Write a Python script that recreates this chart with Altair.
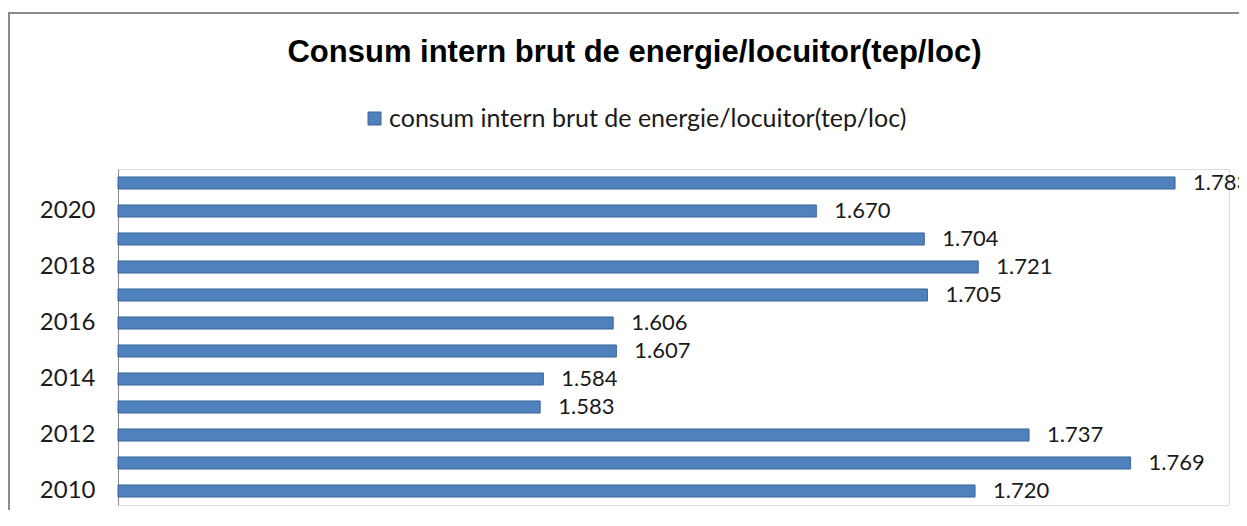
import altair as alt
import pandas as pd

years = [2010, 2011, 2012, 2013, 2014, 2015, 2016, 2017, 2018, 2019, 2020, 2021]
values = [1.720, 1.769, 1.737, 1.583, 1.584, 1.607, 1.606, 1.705, 1.721, 1.704, 1.670, 1.783]
series_name = "consum intern brut de energie/locuitor(tep/loc)"
title_text = "Consum intern brut de energie/locuitor(tep/loc)"
x_min = 1.45
x_max = 1.80

bar_color = "#4F81BD"
bar_edge = "#3A6597"
text_color = "#1a1a1a"

df = pd.DataFrame({"year": years, "value": values, "series": [series_name] * len(years)})

y_enc = alt.Y(
    "year:O",
    sort="descending",
    scale=alt.Scale(paddingInner=0.57, paddingOuter=0.285),
    axis=alt.Axis(
        title=None,
        labelExpr="datum.value % 2 == 0 ? datum.label : ''",
        ticks=False,
        labelFont="Lato",
        labelFontSize=24,
        labelColor=text_color,
        labelPadding=23,
        domainColor="#8c8c8c",
        domainWidth=1,
        grid=False,
    ),
)
x_enc = alt.X("value:Q", scale=alt.Scale(domain=[x_min, x_max], zero=False, nice=False), axis=None)

bars = alt.Chart(df).mark_bar(stroke=bar_edge, strokeWidth=1).encode(
    y=y_enc,
    x=x_enc,
    x2=alt.X2(datum=x_min),
    color=alt.Color(
        "series:N",
        scale=alt.Scale(range=[bar_color]),
        legend=alt.Legend(
            title=None,
            orient="none",
            legendX=244,
            legendY=-63,
            symbolType="square",
            symbolSize=169,
            symbolStrokeColor=bar_edge,
            symbolStrokeWidth=1,
            labelFont="Lato",
            labelFontSize=25,
            labelColor=text_color,
            labelOffset=2,
            labelLimit=800,
        ),
    ),
)

labels = alt.Chart(df).mark_text(
    align="left", baseline="middle", dx=18, font="Lato", fontSize=22, color=text_color
).encode(
    y=y_enc,
    x=x_enc,
    text=alt.Text("value:Q", format=".3f"),
)

border = alt.Chart(pd.DataFrame({"k": [0]})).mark_rect(
    fillOpacity=0, stroke="#8c8c8c", strokeWidth=2
).encode(
    x=alt.value(-109), x2=alt.value(1300), y=alt.value(-156), y2=alt.value(500)
)

chart = alt.layer(bars, labels, border).properties(
    width=1111,
    height=336,
    autosize=alt.AutoSizeParams(type="none"),
    padding={"left": 110, "top": 161, "right": 10, "bottom": 5},
    title=alt.TitleParams(
        text=title_text,
        font="Liberation Sans",
        fontSize=31,
        fontWeight="bold",
        color="#000000",
        anchor="middle",
        dx=-39,
        offset=-57,
    ),
).configure_view(fill="#E5E5E5", stroke="transparent").configure(background="white")

chart.save("out.html", embed_options={"renderer": "svg", "actions": False})
